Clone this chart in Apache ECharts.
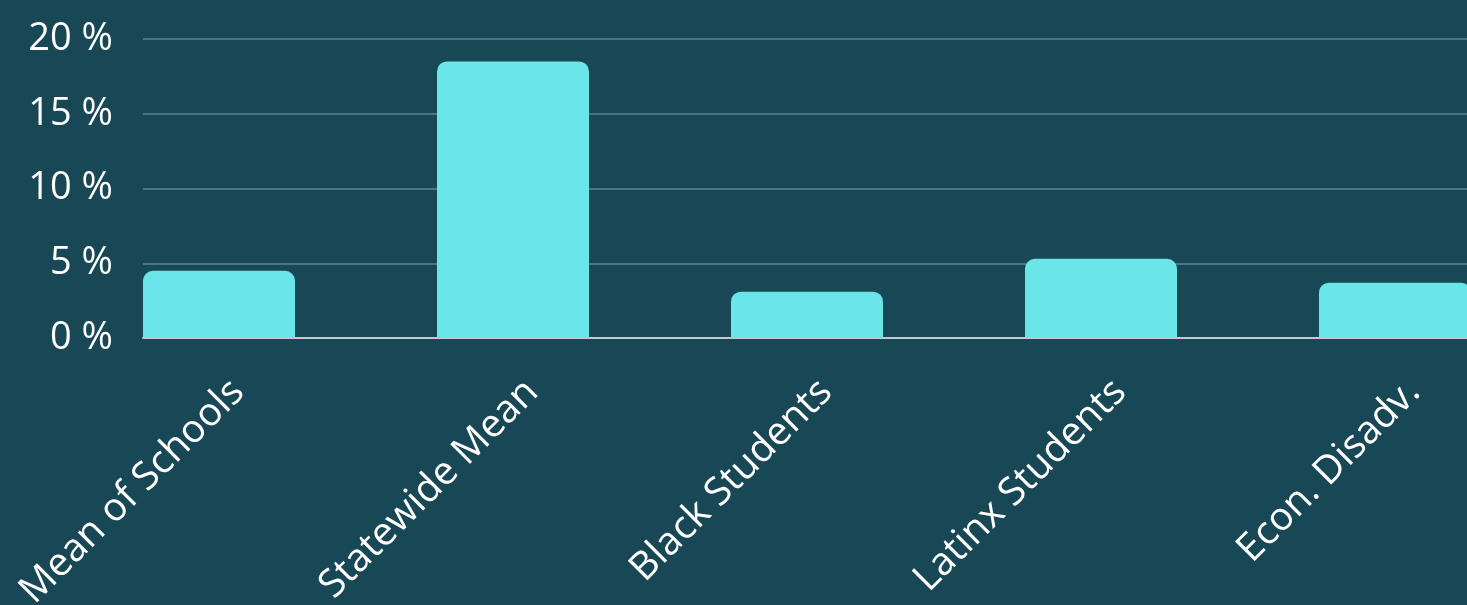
<!DOCTYPE html>
<html><head><meta charset="utf-8">
<script src="https://cdn.jsdelivr.net/npm/echarts@6/dist/echarts.min.js"></script>
<style>html,body{margin:0;padding:0;background:#184756;}#c{width:1467px;height:605px;}</style>
</head><body><div id="c"></div>
<script>
const categories = ["Mean of Schools", "Statewide Mean", "Black Students", "Latinx Students", "Econ. Disadv."];
const values = [4.5, 18.5, 3.1, 5.3, 3.7];
const yTicks = [0, 5, 10, 15, 20];

const chart = echarts.init(document.getElementById('c'));
const font = '"Open Sans", "Noto Sans", sans-serif';
chart.setOption({
  backgroundColor: '#184756',
  animation: false,
  grid: [
    {left: 143, right: 0, top: 39, bottom: 267, outerBoundsMode: 'none'},
    {left: 72, right: -75, top: 39, bottom: 267, outerBoundsMode: 'none'},
    {left: 91, right: -94, top: 39, bottom: 267, outerBoundsMode: 'none'}
  ],
  xAxis: [
    {gridIndex: 0, type: 'category', data: categories, axisLine: {show: true, lineStyle: {color: '#c8c8c8', width: 2}}, axisTick: {show: false}, axisLabel: {show: false}},
    {gridIndex: 1, type: 'category', data: categories, axisLine: {show: false}, axisTick: {show: false}, axisLabel: {show: false}},
    {gridIndex: 2, type: 'category', data: categories, axisLine: {show: false}, axisTick: {show: false},
     axisLabel: {show: true, rotate: 45, interval: 0, color: '#ffffff', fontSize: 39, fontFamily: font, margin: 48}}
  ],
  yAxis: [
    {gridIndex: 0, type: 'value', min: yTicks[0], max: yTicks[yTicks.length-1], interval: 5,
     axisLine: {show: false}, axisTick: {show: false},
     axisLabel: {formatter: '{value} %', color: '#ffffff', fontSize: 38, fontFamily: font, margin: 30},
     splitLine: {show: true, lineStyle: {color: '#5d8590', width: 1.5}}},
    {gridIndex: 1, type: 'value', min: 0, max: 20, show: false, splitLine: {show: false}},
    {gridIndex: 2, type: 'value', min: 0, max: 20, show: false, splitLine: {show: false}}
  ],
  series: [{
    type: 'bar', xAxisIndex: 1, yAxisIndex: 1, data: values, barWidth: 152,
    itemStyle: {color: '#6ae6e9', borderRadius: [10, 10, 0, 0]}
  }]
});
</script></body></html>
